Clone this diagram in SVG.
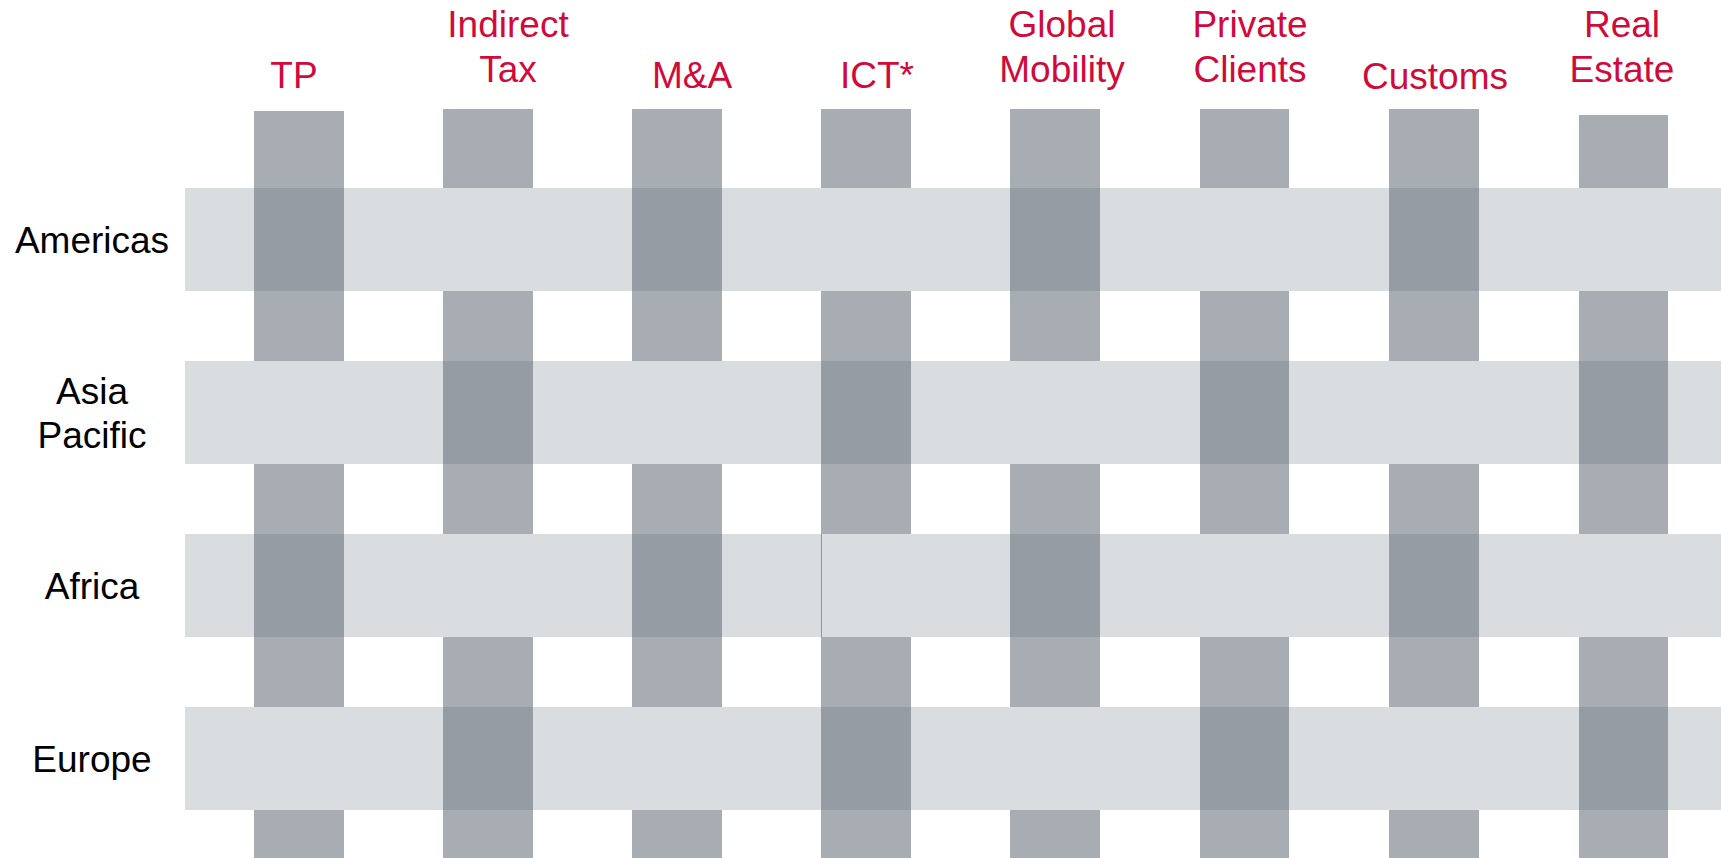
<svg xmlns="http://www.w3.org/2000/svg" width="1721" height="858" viewBox="0 0 1721 858">
<style>
.bg{fill:#ffffff}
.row{fill:#DADDE0}
.col{fill:#A8ADB4}
.over{fill:#959CA4}
.seam{stroke:#8F969E;stroke-width:1}
.ct{font-family:"Liberation Sans",Arial,sans-serif;font-size:37px;fill:#D10A3C;text-anchor:middle}
.rt{font-family:"Liberation Sans",Arial,sans-serif;font-size:37px;fill:#000000;text-anchor:middle}
</style>
<rect class="bg" x="0" y="0" width="1721" height="858"/>
<g id="rows">
  <g id="row-americas"><rect class="row" x="185" y="188" width="1536" height="103"/><text class="rt" x="92" y="253">Americas</text></g>
  <g id="row-asia-pacific"><rect class="row" x="185" y="361" width="1536" height="103"/><text class="rt" x="92" y="404">Asia</text><text class="rt" x="92" y="448">Pacific</text></g>
  <g id="row-africa"><rect class="row" x="185" y="534" width="1536" height="103"/><text class="rt" x="92" y="599">Africa</text></g>
  <g id="row-europe"><rect class="row" x="185" y="707" width="1536" height="103"/><text class="rt" x="92" y="772">Europe</text></g>
</g>
<g id="connectors">
  <line class="seam" x1="821.5" y1="534" x2="821.5" y2="637"/>
</g>
<g id="columns">
  <g id="col-tp">
    <text class="ct" x="294" y="88">TP</text>
    <rect class="col" x="254" y="111" width="90" height="250"/>
    <rect class="col" x="254" y="464" width="90" height="243"/>
    <rect class="col" x="254" y="810" width="90" height="48"/>
    <rect class="over" x="254" y="188" width="90" height="103"/>
    <rect class="over" x="254" y="534" width="90" height="103"/>
  </g>
  <g id="col-indirect-tax">
    <text class="ct" x="508" y="37">Indirect</text><text class="ct" x="508" y="82">Tax</text>
    <rect class="col" x="443" y="109" width="90" height="79"/>
    <rect class="col" x="443" y="291" width="90" height="243"/>
    <rect class="col" x="443" y="637" width="90" height="221"/>
    <rect class="over" x="443" y="361" width="90" height="103"/>
    <rect class="over" x="443" y="707" width="90" height="103"/>
  </g>
  <g id="col-ma">
    <text class="ct" x="692" y="88">M&amp;A</text>
    <rect class="col" x="632" y="109" width="90" height="252"/>
    <rect class="col" x="632" y="464" width="90" height="243"/>
    <rect class="col" x="632" y="810" width="90" height="48"/>
    <rect class="over" x="632" y="188" width="90" height="103"/>
    <rect class="over" x="632" y="534" width="90" height="103"/>
  </g>
  <g id="col-ict">
    <text class="ct" x="877" y="88">ICT*</text>
    <rect class="col" x="821" y="109" width="90" height="79"/>
    <rect class="col" x="821" y="291" width="90" height="243"/>
    <rect class="col" x="821" y="637" width="90" height="221"/>
    <rect class="over" x="821" y="361" width="90" height="103"/>
    <rect class="over" x="821" y="707" width="90" height="103"/>
  </g>
  <g id="col-global-mobility">
    <text class="ct" x="1062" y="37">Global</text><text class="ct" x="1062" y="82">Mobility</text>
    <rect class="col" x="1010" y="109" width="90" height="252"/>
    <rect class="col" x="1010" y="464" width="90" height="243"/>
    <rect class="col" x="1010" y="810" width="90" height="48"/>
    <rect class="over" x="1010" y="188" width="90" height="103"/>
    <rect class="over" x="1010" y="534" width="90" height="103"/>
  </g>
  <g id="col-private-clients">
    <text class="ct" x="1250" y="37">Private</text><text class="ct" x="1250" y="82">Clients</text>
    <rect class="col" x="1200" y="109" width="89" height="79"/>
    <rect class="col" x="1200" y="291" width="89" height="243"/>
    <rect class="col" x="1200" y="637" width="89" height="221"/>
    <rect class="over" x="1200" y="361" width="89" height="103"/>
    <rect class="over" x="1200" y="707" width="89" height="103"/>
  </g>
  <g id="col-customs">
    <text class="ct" x="1435" y="89">Customs</text>
    <rect class="col" x="1389" y="109" width="90" height="252"/>
    <rect class="col" x="1389" y="464" width="90" height="243"/>
    <rect class="col" x="1389" y="810" width="90" height="48"/>
    <rect class="over" x="1389" y="188" width="90" height="103"/>
    <rect class="over" x="1389" y="534" width="90" height="103"/>
  </g>
  <g id="col-real-estate">
    <text class="ct" x="1622" y="37">Real</text><text class="ct" x="1622" y="82">Estate</text>
    <rect class="col" x="1579" y="115" width="89" height="73"/>
    <rect class="col" x="1579" y="291" width="89" height="243"/>
    <rect class="col" x="1579" y="637" width="89" height="221"/>
    <rect class="over" x="1579" y="361" width="89" height="103"/>
    <rect class="over" x="1579" y="707" width="89" height="103"/>
  </g>
</g>
</svg>
